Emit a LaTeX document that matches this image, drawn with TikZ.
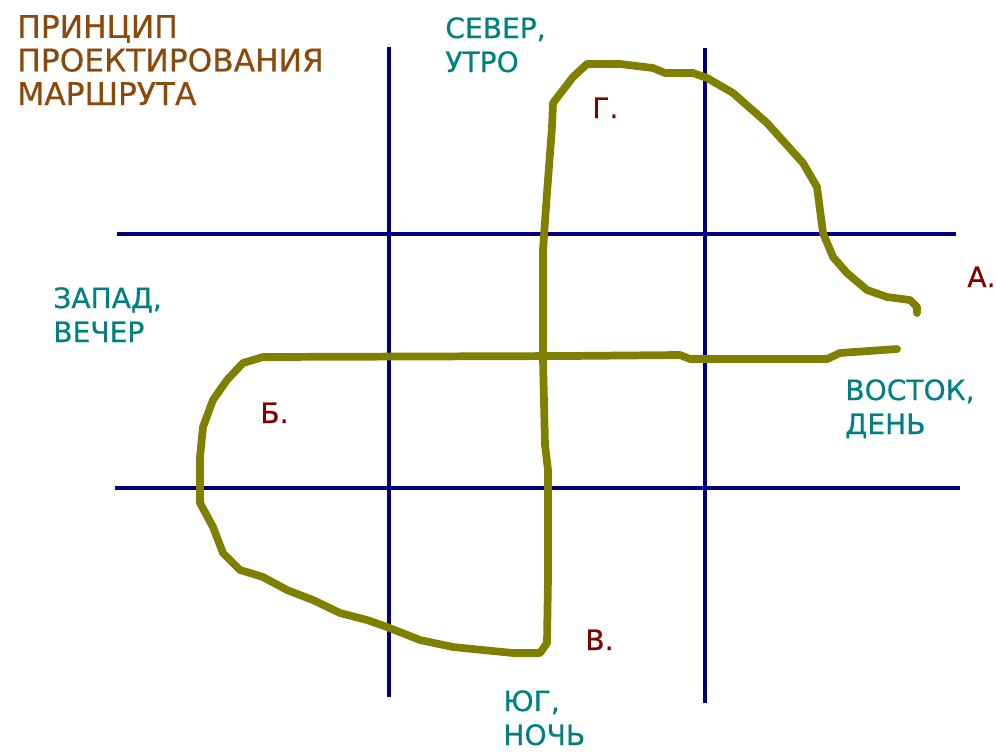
\documentclass[tikz,border=0pt]{standalone}
\usepackage{fontspec}
\setmainfont{DejaVu Sans}[FakeBold=0.5]
\usetikzlibrary{positioning}
\definecolor{gridblue}{HTML}{000080}
\definecolor{routeolive}{HTML}{808000}
\definecolor{sidecol}{HTML}{008080}
\definecolor{titlecol}{HTML}{8A4A0C}
\definecolor{pointcol}{HTML}{800000}

\begin{document}
\begin{tikzpicture}[x=0.02cm, y=-0.02cm,
  gridline/.style={draw=gridblue, line width=2.8pt},
  route/.style={draw=routeolive, line width=4.4pt, line join=round, line cap=round},
  side/.style={anchor=base west, inner sep=0pt, align=left, text=sidecol, font=\fontsize{16}{19.3}\selectfont},
  point/.style={anchor=base west, inner sep=0pt, text=pointcol, font=\fontsize{16}{18}\selectfont},
  heading/.style={anchor=base west, inner sep=0pt, align=left, text=titlecol, font=\fontsize{17.8}{19.1}\selectfont}]
\useasboundingbox (0,0) rectangle (996,751);
% grid
\draw[gridline] (389,47) -- (389,697);
\draw[gridline] (705,48) -- (705,703);
\draw[gridline] (117,234) -- (956,234);
\draw[gridline] (115,488) -- (960,488);
% route
\draw[route] (897,349) -- (840,353) -- (827,359) -- (690,359) -- (680,355) -- (567,356)
  -- (263,357) -- (243,363) -- (227,380) -- (213,400) -- (203,427) -- (200,457)
  -- (200,503) -- (213,527) -- (223,553) -- (240,570) -- (263,577) -- (287,590)
  -- (313,600) -- (340,613) -- (367,620) -- (387,627) -- (420,640) -- (453,647)
  -- (513,653) -- (540,653) -- (547,643) -- (548,577) -- (548,470) -- (545,445)
  -- (543,360) -- (543,250) -- (547,193) -- (552,127) -- (553,103) -- (573,77)
  -- (587,64) -- (620,64) -- (653,68) -- (665,73) -- (693,73) -- (707,78)
  -- (733,93) -- (767,123) -- (803,163) -- (817,187) -- (823,233) -- (833,257)
  -- (847,273) -- (867,290) -- (887,297) -- (910,300) -- (917,307) -- (917,313);
% texts (base = last line)
\node[heading] (title) at (17,105) {ПРИНЦИП\\ПРОЕКТИРОВАНИЯ\\МАРШРУТА};
\node[side] (north) at (445,72) {СЕВЕР,\\УТРО};
\node[side] (west) at (53,342) {ЗАПАД,\\ВЕЧЕР};
\node[side] (east) at (845,434) {ВОСТОК,\\ДЕНЬ};
\node[side] (south) at (503,745) {ЮГ,\\НОЧЬ};
\node[point] (pa) at (967,287) {А.};
\node[point] (pb) at (260,423) {Б.};
\node[point] (pv) at (585,650) {В.};
\node[point] (pg) at (592,118) {Г.};
\end{tikzpicture}
\end{document}
